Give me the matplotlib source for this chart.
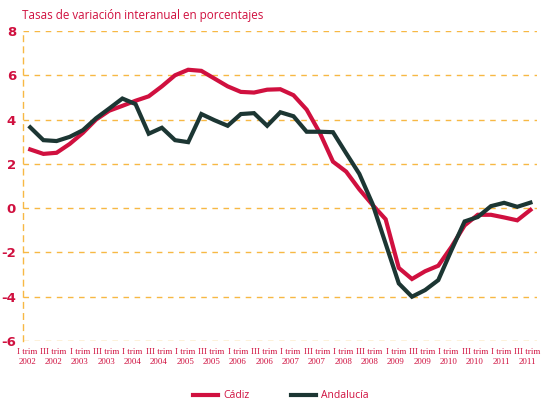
import matplotlib
matplotlib.use("Agg")
import matplotlib.pyplot as plt
import matplotlib.transforms as mtransforms
from matplotlib.lines import Line2D

# Data (quarterly, I trim 2002 .. III trim 2011)
quarters = [f"{q} trim\n{y}" for y in range(2002, 2012) for q in ["I", "II", "III", "IV"]][:39]
cadiz = [2.65, 2.45, 2.5, 2.9, 3.4, 4.0, 4.4, 4.62, 4.85, 5.05,
         5.5, 6.0, 6.25, 6.2, 5.85, 5.5, 5.25, 5.22, 5.35, 5.37,
         5.1, 4.45, 3.4, 2.1, 1.65, 0.85, 0.15, -0.5, -2.7, -3.2,
         -2.85, -2.6, -1.75, -0.78, -0.3, -0.3, -0.42, -0.55, -0.08]
andalucia = [3.65, 3.07, 3.03, 3.22, 3.52, 4.06, 4.5, 4.95, 4.7, 3.36,
             3.63, 3.07, 2.98, 4.25, 3.97, 3.72, 4.25, 4.29, 3.72, 4.33,
             4.15, 3.45, 3.45, 3.43, 2.48, 1.55, 0.2, -1.6, -3.4, -4.0,
             -3.7, -3.25, -1.9, -0.6, -0.4, 0.09, 0.24, 0.06, 0.25]
yticks = [-6, -4, -2, 0, 2, 4, 6, 8]
title = "Tasas de variación interanual en porcentajes"

red = "#D0103F"
dark = "#1C3633"
grid = "#F7B844"

fig = plt.figure(figsize=(5.41, 4.01), dpi=100)
ax = fig.add_axes([23/541, 1-341/401, (537-23)/541, (341-31)/401])

x = list(range(len(quarters)))
ax.plot(x, cadiz, color=red, lw=3.0, solid_joinstyle="miter", zorder=3)
ax.plot(x, andalucia, color=dark, lw=3.0, solid_joinstyle="miter", zorder=4)

ax.set_xlim(-0.55, 38.5)
ax.set_ylim(-6, 8)
ax.set_yticks(yticks)
ax.set_yticklabels([str(v) for v in yticks], color=red, fontweight="bold",
                   fontsize=9.5, family="DejaVu Sans")
ax.yaxis.grid(True, color=grid, linestyle=(0, (4, 4)), lw=1.0)
ax.tick_params(axis="y", length=0, pad=5)
ax.tick_params(axis="x", length=0, pad=5)
ax.set_xticks(x[::2])
ax.set_xticklabels(quarters[::2], color=red, fontsize=6.4,
                   family="Liberation Serif", linespacing=1.3)
offset = mtransforms.ScaledTranslation(-3/100, 0, fig.dpi_scale_trans)
for lbl in ax.get_xticklabels():
    lbl.set_transform(lbl.get_transform() + offset)

for s in ["top", "right", "bottom"]:
    ax.spines[s].set_visible(False)
ax.spines["left"].set_color(grid)
ax.spines["left"].set_linestyle((0, (4, 4)))
ax.spines["left"].set_linewidth(1.0)

fig.text(22/541, 1-15/401, title, color=red, fontsize=8.4, family="Open Sans",
         va="center", ha="left")

handles = [Line2D([0], [0], color=red, lw=3.0),
           Line2D([0], [0], color=dark, lw=3.0)]
leg = fig.legend(handles, ["Cádiz", "Andalucía"], loc="center",
                 bbox_to_anchor=(281/541, 1-396/401), ncol=2, frameon=False,
                 handlelength=2.4, columnspacing=4.0, handletextpad=0.5,
                 prop={"family": "Open Sans", "size": 7.5})
for t in leg.get_texts():
    t.set_color(red)

fig.savefig("out.png", dpi=100)
